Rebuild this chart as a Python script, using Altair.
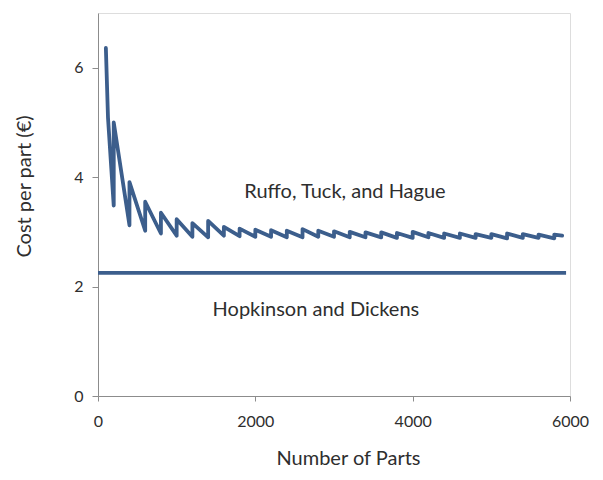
import altair as alt
import pandas as pd

# ---- data ----
# first (partial) build
start_parts = [100, 127]
start_cost = [6.36, 5.09]
# new build started at these part counts (vertical jumps of the saw-tooth)
build_parts = [200, 400, 600, 800, 1000, 1200, 1400, 1600, 1800, 2000,
               2200, 2400, 2600, 2800, 3000, 3200, 3400, 3600, 3800, 4000,
               4200, 4400, 4600, 4800, 5000, 5200, 5400, 5600, 5800]
cost_before_jump = [3.48, 3.12, 3.02, 2.97, 2.93, 2.91, 2.90, 2.93, 2.92, 2.91,
                    2.91, 2.90, 2.90, 2.91, 2.91, 2.90, 2.90, 2.90, 2.89, 2.89,
                    2.90, 2.89, 2.89, 2.89, 2.89, 2.88, 2.89, 2.89, 2.88]
cost_after_jump = [5.00, 3.91, 3.55, 3.35, 3.23, 3.16, 3.20, 3.09, 3.06, 3.04,
                   3.03, 3.02, 3.05, 3.02, 3.01, 3.00, 2.99, 2.99, 2.98, 3.00,
                   2.98, 2.97, 2.97, 2.96, 2.96, 2.97, 2.96, 2.95, 2.95]
end_parts = [5900]
end_cost = [2.93]

# Hopkinson and Dickens: constant cost per part
hd_parts = [0, 5950]
hd_cost = [2.25, 2.25]

label_text = ["Ruffo, Tuck, and Hague", "Hopkinson and Dickens"]
label_x = [3140, 2770]
label_y = [3.61, 1.47]

x_ticks = [0, 2000, 4000, 6000]
y_ticks = [0, 2, 4, 6]

# ---- build tables ----
rows = []
for p, c in zip(start_parts, start_cost):
    rows.append((p, c))
for p, a, b in zip(build_parts, cost_before_jump, cost_after_jump):
    rows.append((p, a))
    rows.append((p, b))
for p, c in zip(end_parts, end_cost):
    rows.append((p, c))
rth = pd.DataFrame(rows, columns=["parts", "cost"])
rth["order"] = range(len(rth))

hd = pd.DataFrame({"parts": hd_parts, "cost": hd_cost, "order": [0, 1]})
labels = pd.DataFrame({"text": label_text, "parts": label_x, "cost": label_y})

COLOR = "#3C5E8C"
TEXT = "#2E2E2E"
AXIS = "#8C8C8C"
FONT = "Lato"

xscale = alt.Scale(domain=[0, 6000], nice=False, zero=True)
yscale = alt.Scale(domain=[0, 7], nice=False)

xaxis = alt.Axis(values=x_ticks, title="Number of Parts", grid=False,
                 labelFont=FONT, labelFontSize=16, labelColor=TEXT,
                 labelFlush=False, labelOverlap=False,
                 labelPadding=12, tickSize=5, tickColor=AXIS, domainColor=AXIS,
                 titleFont=FONT, titleFontSize=20, titleFontWeight="normal",
                 titleColor=TEXT, titleX=250, titleY=68, titleAlign="center",
                 titleBaseline="alphabetic", format="d")
yaxis = alt.Axis(values=y_ticks, title="Cost per part (€)", grid=False,
                 labelFont=FONT, labelFontSize=16, labelColor=TEXT,
                 labelFlush=False, labelOverlap=False,
                 labelPadding=9, tickSize=6, tickColor=AXIS, domainColor=AXIS,
                 titleFont=FONT, titleFontSize=20, titleFontWeight="normal",
                 titleColor=TEXT, titleX=-74, titleY=173, titleAngle=270,
                 titleAlign="center", titleBaseline="middle", format="d")

saw = alt.Chart(rth).mark_line(color=COLOR, strokeWidth=3.8, strokeJoin="round",
                               strokeCap="round").encode(
    x=alt.X("parts:Q", scale=xscale, axis=xaxis),
    y=alt.Y("cost:Q", scale=yscale, axis=yaxis),
    order="order:Q",
)

flat = alt.Chart(hd).mark_line(color=COLOR, strokeWidth=3.8).encode(
    x=alt.X("parts:Q", scale=xscale),
    y=alt.Y("cost:Q", scale=yscale),
    order="order:Q",
)

text = alt.Chart(labels).mark_text(font=FONT, fontSize=20, color=TEXT,
                                   align="center", baseline="alphabetic").encode(
    x=alt.X("parts:Q", scale=xscale),
    y=alt.Y("cost:Q", scale=yscale),
    text="text:N",
)

chart = alt.layer(flat, saw, text).properties(
    width=472, height=383,
    padding={"left": 90, "top": 5, "right": 20, "bottom": 76},
    autosize=alt.AutoSizeParams(type="none"),
).configure_view(stroke=None).configure(background="white")

chart.save("out.html", embed_options={"renderer": "svg", "actions": False})
